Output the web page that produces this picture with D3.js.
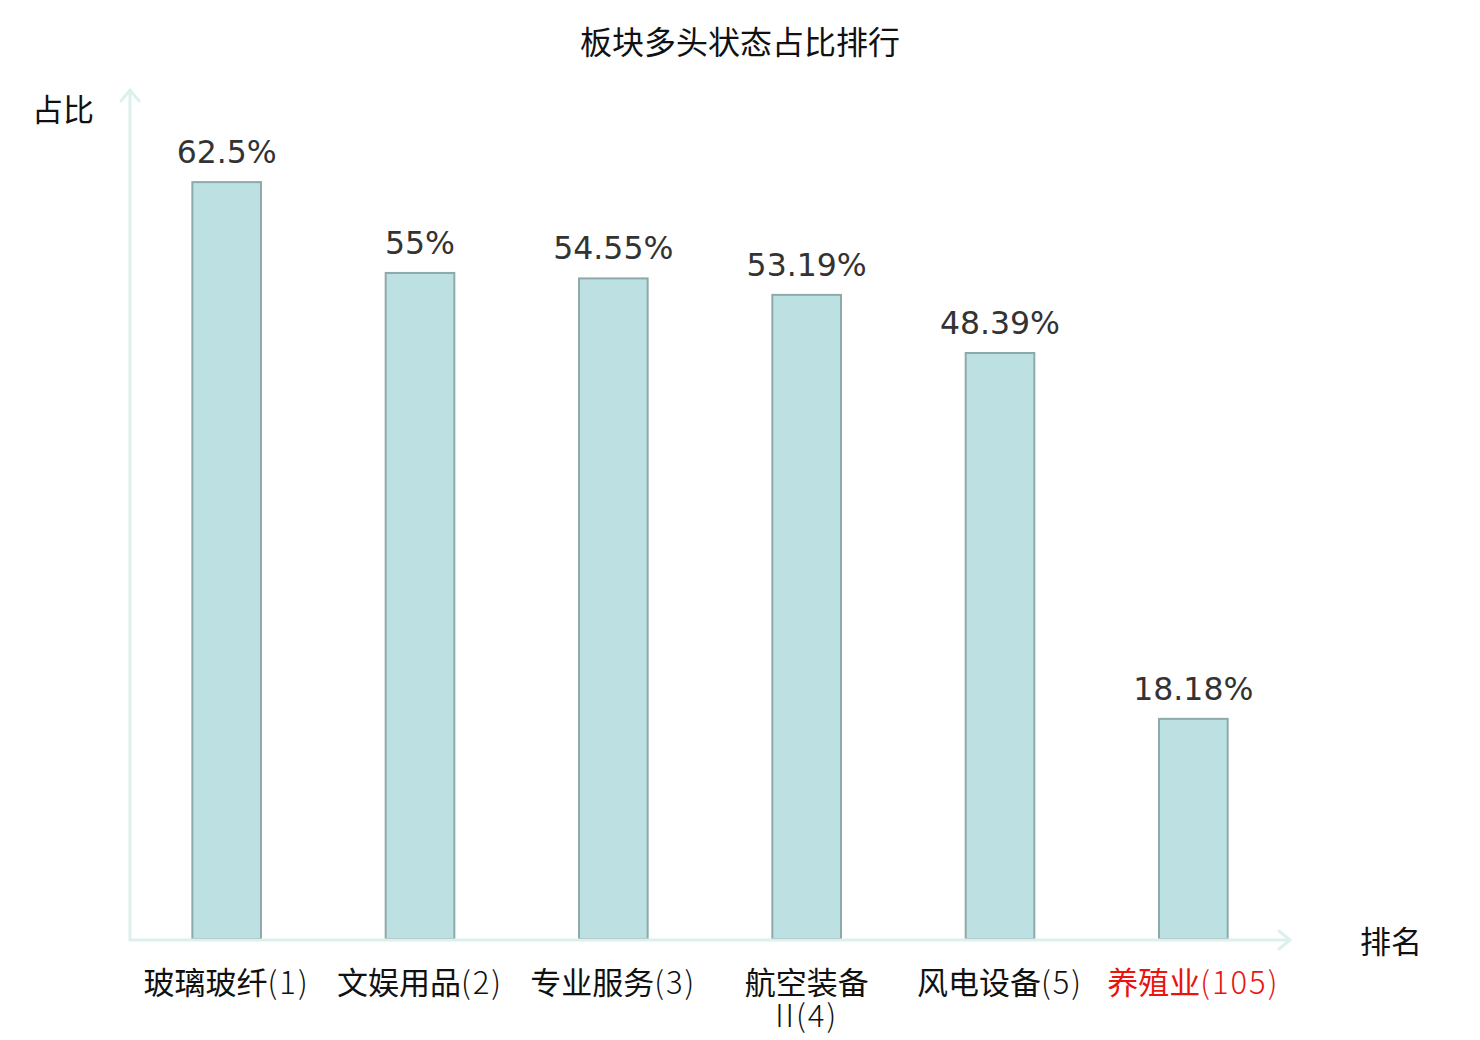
<!DOCTYPE html>
<html>
<head>
<meta charset="utf-8">
<script src="https://cdn.jsdelivr.net/npm/d3@7/dist/d3.min.js"></script>
<style>
  html, body { margin: 0; padding: 0; background: #fff; }
  svg { display: block; }
</style>
</head>
<body>
<svg id="chart" width="1480" height="1040"></svg>
<script>
// ---- data ----
const title = "板块多头状态占比排行";
const yAxisName = "占比";
const xAxisName = "排名";
const categories = ["玻璃玻纤(1)", "文娱用品(2)", "专业服务(3)", "航空装备\nII(4)", "风电设备(5)", "养殖业(105)"];
const values = [62.5, 55, 54.55, 53.19, 48.39, 18.18];
const valueLabels = ["62.5%", "55%", "54.55%", "53.19%", "48.39%", "18.18%"];
const highlighted = [false, false, false, false, false, true];

// ---- layout ----
(function () {
const svg = d3.select("#chart");
const mLeft = 130, mRight = 1290, mBottom = 940, mTop = 90;
const cjk = "'Noto Sans CJK SC', 'Noto Sans', sans-serif";
const axisColor = "#dcf0ee";

const x = d3.scaleBand().domain(categories).range([mLeft, mRight]).paddingInner(0.645).paddingOuter(0.3225);
const y = d3.scaleLinear().domain([0, 70]).range([mBottom - 1, mBottom - 1 - 70 * 12.11]);

// title
svg.append("text").attr("x", 740).attr("y", 54).attr("text-anchor", "middle")
  .style("font-family", cjk).style("font-size", "32px").attr("fill", "#111").text(title);

// bars
svg.append("g").selectAll("rect").data(values).join("rect")
  .attr("x", (d, i) => x(categories[i]))
  .attr("y", d => y(d))
  .attr("width", x.bandwidth())
  .attr("height", d => y(0) - y(d))
  .attr("fill", "#bde0e3")
  .attr("stroke", "#8ea9a9")
  .attr("stroke-width", 2);

// value labels
svg.append("g").selectAll("text").data(values).join("text")
  .attr("x", (d, i) => x(categories[i]) + x.bandwidth() / 2)
  .attr("y", d => y(d) - 19)
  .attr("text-anchor", "middle")
  .style("font-family", "'DejaVu Sans', sans-serif")
  .style("font-size", "31.5px")
  .attr("fill", "#333")
  .text((d, i) => valueLabels[i]);

// axes
const axes = svg.append("g").attr("stroke", axisColor).attr("stroke-width", 3).attr("fill", "none")
  .attr("stroke-linecap", "round").attr("stroke-linejoin", "round");
axes.append("line").attr("x1", mLeft).attr("y1", mBottom).attr("x2", mLeft).attr("y2", mTop);
axes.append("path").attr("d", `M${mLeft - 9},${mTop + 11}L${mLeft},${mTop}L${mLeft + 9},${mTop + 11}`);
axes.append("line").attr("x1", mLeft).attr("y1", mBottom).attr("x2", mRight).attr("y2", mBottom);
axes.append("path").attr("d", `M${mRight - 11},${mBottom - 9}L${mRight},${mBottom}L${mRight - 11},${mBottom + 9}`);

// axis names
svg.append("text").attr("x", 63).attr("y", 121).attr("text-anchor", "middle")
  .style("font-family", cjk).style("font-size", "31px").attr("fill", "#111").text(yAxisName);
svg.append("text").attr("x", 1391).attr("y", 953).attr("text-anchor", "middle")
  .style("font-family", cjk).style("font-size", "31px").attr("fill", "#111").text(xAxisName);

// category labels (one text per line)
const lineGap = 33;
const labelG = svg.append("g");
categories.forEach((c, i) => {
  const cx = x(c) + x.bandwidth() / 2;
  c.split("\n").forEach((line, j) => {
    const t = labelG.append("text")
      .attr("x", cx)
      .attr("y", 994 + j * lineGap)
      .attr("text-anchor", "middle")
      .style("font-family", cjk)
      .style("font-size", "31px")
      .attr("fill", highlighted[i] ? "#e8140e" : "#111");
    const m = line.match(/^([\u4e00-\u9fff]*)(.*)$/);
    if (m[1]) t.append("tspan").text(m[1]);
    if (m[2]) t.append("tspan").style("letter-spacing", "2px").style("font-weight", 300).text(m[2]);
  });
});
})();
</script>
</body>
</html>
